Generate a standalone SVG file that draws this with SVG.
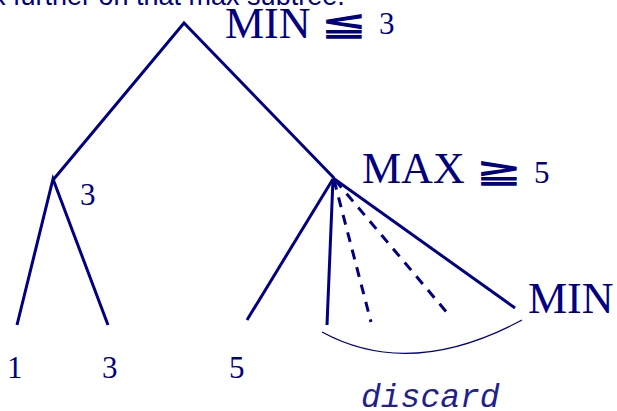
<svg xmlns="http://www.w3.org/2000/svg" width="617" height="411" viewBox="0 0 617 411">
<style>
.e{stroke:#000080;stroke-width:3;fill:none;stroke-linecap:butt}
.d{stroke-dasharray:10 8}
.arc{stroke:#000080;stroke-width:1.3;fill:none}
.s{font-family:"Liberation Serif","Times New Roman",serif;fill:#000080}
.sym{font-family:"DejaVu Sans",sans-serif;font-weight:bold;font-size:40px;fill:#000080}
.big{font-size:44px}
.num{font-size:31px}
.cap{font-family:"Liberation Sans",Arial,sans-serif;font-size:27px;fill:#000080}
.mono{font-family:"Liberation Mono","Courier New",monospace;font-style:italic;font-size:33px;fill:#1f1f8f}
</style>
<rect width="617" height="411" fill="#fff"/>
<text class="cap" x="-8" y="5">k further on that max subtree.</text>
<g id="connectors">
<path class="e" d="M53,180 L184,23 L334,178"/>
<path class="e" d="M17,325 L53,179 L108,325"/>
<path class="e" d="M247,320 L333,179"/>
<path class="e" d="M327,325 L333,179"/>
<path class="e d" d="M334,180 L371,322"/>
<path class="e d" d="M335,180 L449,315"/>
<path class="e" d="M333,178 L515,308"/>
<path class="arc" d="M322,332 Q410,380 522,320"/>
</g>
<g id="root"><text class="s big" x="225" y="38">MIN</text><text class="sym" transform="translate(320,35) scale(1.42,0.85)">≦</text><text class="s num" x="379" y="34">3</text></g>
<g id="min-left"><text class="s num" x="80" y="205">3</text></g>
<g id="max"><text class="s big" x="362" y="183">MAX</text><text class="sym" transform="translate(475,182) scale(1.42,0.85)">≧</text><text class="s num" x="534" y="183">5</text></g>
<g id="min-right"><text class="s big" x="528" y="313">MIN</text></g>
<g id="leaf1"><text class="s num" x="7" y="378">1</text></g>
<g id="leaf3"><text class="s num" x="102" y="378">3</text></g>
<g id="leaf5"><text class="s num" x="229" y="378">5</text></g>
<g id="discard"><text class="mono" x="361" y="407">discard</text></g>
</svg>
